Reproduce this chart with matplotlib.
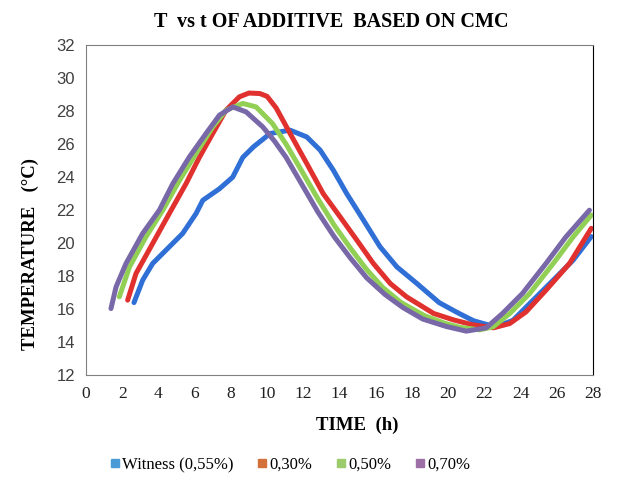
import matplotlib.pyplot as plt
from matplotlib.lines import Line2D

plt.rcParams["font.family"] = "Liberation Serif"

# time (h) / temperature (degC) readings for each formulation
t_witness = [2.65, 3.13, 3.68, 4.42, 5.34, 6.08, 6.45, 7.37, 8.1, 8.66, 9.25, 10.17, 11.27,
             12.19, 12.93, 13.66, 14.4, 15.32, 16.24, 17.17, 18.27, 19.5, 20.5, 21.4, 22.2,
             22.7, 23.58, 24.5, 25.8, 26.9, 27.9]
T_witness = [16.4, 17.76, 18.77, 19.58, 20.59, 21.8, 22.6, 23.3, 24.0, 25.2, 25.84, 26.65,
             26.85, 26.44, 25.64, 24.42, 23.0, 21.4, 19.78, 18.56, 17.56, 16.4, 15.8, 15.3,
             15.05, 14.95, 15.33, 16.34, 17.76, 18.97, 20.4]

t_030 = [2.3, 2.76, 3.68, 4.6, 5.52, 6.26, 7.0, 7.73, 8.47, 9.0, 9.6, 10.0, 10.5, 11.27,
         12.19, 13.1, 14.03, 14.96, 15.87, 16.8, 17.7, 19.2, 20.3, 21.37, 22.5, 23.4, 24.3,
         25.4, 26.7, 27.9]
T_030 = [16.55, 18.16, 19.98, 21.8, 23.6, 25.2, 26.65, 28.06, 28.87, 29.1, 29.07, 28.9, 28.2,
         26.65, 24.83, 23.0, 21.6, 20.18, 18.77, 17.56, 16.75, 15.74, 15.35, 15.05, 14.87,
         15.13, 15.84, 17.15, 18.77, 20.9]

t_050 = [1.84, 2.4, 3.31, 4.24, 5.16, 6.08, 7.0, 7.73, 8.66, 9.39, 10.3, 11.05, 11.9, 12.8,
         13.7, 14.6, 15.5, 16.4, 17.4, 18.7, 19.8, 20.64, 21.74, 22.48, 23.4, 24.5, 25.8,
         26.9, 27.9]
T_050 = [16.75, 18.56, 20.38, 22.0, 23.8, 25.44, 27.05, 28.06, 28.47, 28.26, 27.25, 26.0,
         24.4, 22.7, 21.1, 19.7, 18.4, 17.3, 16.4, 15.6, 15.15, 14.9, 14.75, 14.93, 15.74,
         16.95, 18.77, 20.38, 21.7]

t_070 = [1.38, 1.66, 2.21, 3.13, 4.05, 4.79, 5.71, 6.63, 7.37, 8.1, 8.84, 9.76, 10.4, 11.05,
         11.9, 12.8, 13.7, 14.6, 15.5, 16.5, 17.5, 18.6, 19.9, 21.0, 22.1, 23.0, 24.1, 25.4,
         26.5, 27.8]
T_070 = [16.04, 17.35, 18.77, 20.59, 22.0, 23.6, 25.23, 26.65, 27.76, 28.26, 27.96, 27.05,
         26.2, 25.2, 23.6, 21.9, 20.4, 19.1, 17.9, 16.9, 16.1, 15.4, 14.95, 14.67, 14.87,
         15.74, 16.95, 18.77, 20.38, 22.0]

labels = ["Witness (0,55%)", "0,30%", "0,50%", "0,70%"]
line_colors = ["#2F6FD6", "#E0312E", "#92CF55", "#7868A8"]
key_colors = ["#4A9BD6", "#D4703A", "#9BCB6B", "#9E6FA6"]

fig = plt.figure(figsize=(6.37, 4.86), dpi=100)
ax = fig.add_axes([0.135, 0.228, 0.796, 0.679])

series = [(t_witness, T_witness), (t_030, T_030), (t_050, T_050), (t_070, T_070)]
for (t, T), c in zip(series, line_colors):
    ax.plot(t, T, color=c, lw=3.6, solid_capstyle="round", solid_joinstyle="round")

ax.set_xlim(0, 28)
ax.set_ylim(12, 32)
ax.set_xticks(range(0, 29, 2))
ax.set_yticks(range(12, 33, 2))
ax.tick_params(length=0, pad=8, labelsize=12.5)
for lab in ax.get_yticklabels():
    lab.set_family("Liberation Sans")
    lab.set_color("#404040")
    lab.set_fontsize(12)
for lab in ax.get_xticklabels():
    lab.set_color("#202020")
for side in ["left", "bottom", "top"]:
    ax.spines[side].set_color("#808080")
ax.spines["right"].set_color("black")

fig.text(0.52, 0.955, "T  vs t OF ADDITIVE  BASED ON CMC", ha="center", va="center",
         fontsize=14.5, fontweight="bold")
fig.text(0.048, 0.478, "TEMPERATURE   (°C)", rotation=90, ha="center", va="center",
         fontsize=13.5, fontweight="bold")
fig.text(0.561, 0.125, "TIME  (h)", ha="center", va="center",
         fontsize=13.5, fontweight="bold")

handles = [Line2D([], [], ls="none", marker="s", ms=5.5, color=c) for c in key_colors]
fig.legend(handles, labels, loc="center", bbox_to_anchor=(0.455, 0.043), ncol=4,
           frameon=False, fontsize=12, handlelength=0.6, handletextpad=0.15,
           columnspacing=1.4)

fig.savefig("out.png", dpi=100)
